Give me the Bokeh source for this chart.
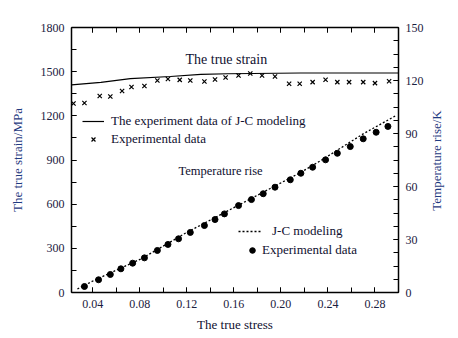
import math
from bokeh.plotting import figure
from bokeh.models import Range1d, LinearAxis, FixedTicker, Legend, LegendItem, Label
from bokeh.embed import file_html
from bokeh.resources import INLINE

# ---- data ----
strain_line_x = [0.022, 0.047, 0.072, 0.106, 0.132, 0.155, 0.217, 0.30]
strain_line_y = [1410, 1427, 1453, 1467, 1481, 1486, 1491, 1491]

exp_strain_x = [0.0237, 0.033, 0.046, 0.055, 0.065, 0.073, 0.084, 0.095, 0.104, 0.114,
                0.123, 0.135, 0.144, 0.153, 0.164, 0.174, 0.184, 0.195, 0.207, 0.216,
                0.227, 0.238, 0.248, 0.258, 0.270, 0.280, 0.292]
exp_strain_y = [1284, 1287, 1335, 1331, 1369, 1396, 1403, 1440, 1450, 1444,
                1440, 1433, 1447, 1460, 1474, 1488, 1474, 1467, 1418, 1418,
                1429, 1445, 1429, 1429, 1429, 1422, 1435]

jc_temp_x = [0.027, 0.041, 0.081, 0.120, 0.217, 0.234, 0.270, 0.2975]
jc_temp_y = [2, 6.8, 19, 34, 68, 74.7, 89.8, 100]

exp_temp_x = [0.033, 0.045, 0.055, 0.064, 0.074, 0.084, 0.095, 0.104, 0.113, 0.123,
              0.135, 0.144, 0.152, 0.164, 0.175, 0.185, 0.195, 0.208, 0.217, 0.227,
              0.238, 0.248, 0.259, 0.270, 0.281, 0.291]
exp_temp_y = [3.4, 7.2, 10.2, 13.4, 16.6, 19.6, 23.8, 27.2, 30.4, 34.0,
              37.9, 41.3, 44.5, 49.2, 52.6, 55.9, 59.6, 63.8, 67.5, 70.9,
              75.1, 78.8, 82.6, 87.0, 90.7, 94.0]

x_ticks = [0.04, 0.08, 0.12, 0.16, 0.20, 0.24, 0.28]
x_tick_labels = ["0.04", "0.08", "0.12", "0.16", "0.20", "0.24", "0.28"]
x_minor = [0.02, 0.04, 0.06, 0.08, 0.10, 0.12, 0.14, 0.16, 0.18, 0.20, 0.22, 0.24, 0.26, 0.28, 0.30]
yl_ticks = [0, 300, 600, 900, 1200, 1500, 1800]
yl_minor = [0, 150, 300, 450, 600, 750, 900, 1050, 1200, 1350, 1500, 1650, 1800]
yr_ticks = [0, 30, 60, 90, 120, 150]
yr_minor = [0, 7.5, 15, 22.5, 30, 37.5, 45, 52.5, 60, 67.5, 75, 82.5, 90, 97.5,
            105, 112.5, 120, 127.5, 135, 142.5, 150]

FONT = "Liberation Serif"
TICK_COLOR = "#1a2040"
TITLE_COLOR = "#1f3a80"
TEXT_COLOR = "#101030"

p = figure(width=450, height=334, x_range=Range1d(0.022, 0.30), y_range=Range1d(0, 1800),
           output_backend="svg", toolbar_location=None, x_axis_type=None, y_axis_type=None,
           min_border_left=71, min_border_right=52, min_border_top=27, min_border_bottom=42)
p.extra_y_ranges = {"temp": Range1d(0, 150)}
p.outline_line_color = None
p.background_fill_color = "white"


def style(ax):
    ax.axis_line_width = 1.5
    ax.axis_line_color = "black"
    ax.major_tick_in = 5
    ax.major_tick_out = 0
    ax.minor_tick_in = 5
    ax.minor_tick_out = 0
    ax.major_tick_line_color = "black"
    ax.minor_tick_line_color = "black"
    ax.major_label_text_font = FONT
    ax.major_label_text_font_size = "12px"
    ax.major_label_text_color = TICK_COLOR
    ax.axis_label_text_font = FONT
    ax.axis_label_text_font_style = "normal"
    ax.axis_label_text_font_size = "13px"
    ax.axis_label_text_color = TITLE_COLOR


xb = LinearAxis(ticker=FixedTicker(ticks=x_ticks, minor_ticks=x_minor),
                axis_label="The true stress")
xb.major_label_overrides = dict(zip(x_ticks, x_tick_labels))
style(xb)
xb.major_label_standoff = 7
xb.axis_label_standoff = 6
xb.axis_label_text_color = TEXT_COLOR
p.add_layout(xb, "below")

xt = LinearAxis(ticker=FixedTicker(ticks=x_ticks, minor_ticks=x_minor))
style(xt)
xt.major_label_overrides = {t: "" for t in x_ticks}
xt.major_label_standoff = 0
p.add_layout(xt, "above")

yl = LinearAxis(ticker=FixedTicker(ticks=yl_ticks, minor_ticks=yl_minor),
                axis_label="The true strain/MPa")
style(yl)
yl.major_label_standoff = 7
yl.axis_label_standoff = 13
p.add_layout(yl, "left")

yr = LinearAxis(y_range_name="temp", ticker=FixedTicker(ticks=yr_ticks, minor_ticks=yr_minor))
style(yr)
yr.major_label_standoff = 7
p.add_layout(yr, "right")

# right-hand axis title, reading bottom-to-top as in the reference (side panel)
p.add_layout(Label(x=10, y=132, x_units="screen", y_units="screen", text="Temperature rise/K",
                   angle=math.pi / 2, text_align="center", text_baseline="middle",
                   text_font=FONT, text_font_size="13px", text_color=TITLE_COLOR), "right")

r_line = p.line(strain_line_x, strain_line_y, line_color="black", line_width=1.2)
r_x = p.scatter(exp_strain_x, exp_strain_y, marker="x", size=6, line_color="black", line_width=1.2)
r_jc = p.line(jc_temp_x, jc_temp_y, y_range_name="temp", line_color="black",
              line_width=1.3, line_dash="2 2")
r_c = p.scatter(exp_temp_x, exp_temp_y, y_range_name="temp", marker="circle", size=6,
                fill_color="black", line_color="black")

common = dict(border_line_color=None, background_fill_alpha=0, padding=0, margin=0,
              spacing=2, glyph_height=14, label_height=14,
              label_text_font=FONT, label_text_font_size="13px", label_text_color=TEXT_COLOR)

lg1 = Legend(items=[LegendItem(label="The experiment data of J-C modeling", renderers=[r_line]),
                    LegendItem(label="Experimental data", renderers=[r_x])],
             location=(11, 145), glyph_width=22, label_standoff=7, **common)
lg2 = Legend(items=[LegendItem(label="J-C modeling", renderers=[r_jc])],
             location=(167, 53), glyph_width=24, label_standoff=10, **common)
lg3 = Legend(items=[LegendItem(label="Experimental data", renderers=[r_c])],
             location=(174, 34), glyph_width=14, label_standoff=3, **common)
for lg in (lg1, lg2, lg3):
    p.add_layout(lg)

p.add_layout(Label(x=114, y=233, x_units="screen", y_units="screen", text="The true strain",
                   text_font=FONT, text_font_size="14px", text_color=TEXT_COLOR,
                   text_baseline="middle"))
p.add_layout(Label(x=107, y=122, x_units="screen", y_units="screen", text="Temperature rise",
                   text_font=FONT, text_font_size="12.5px", text_color=TEXT_COLOR,
                   text_baseline="middle"))

open("out.html", "w").write(file_html(p, INLINE))
